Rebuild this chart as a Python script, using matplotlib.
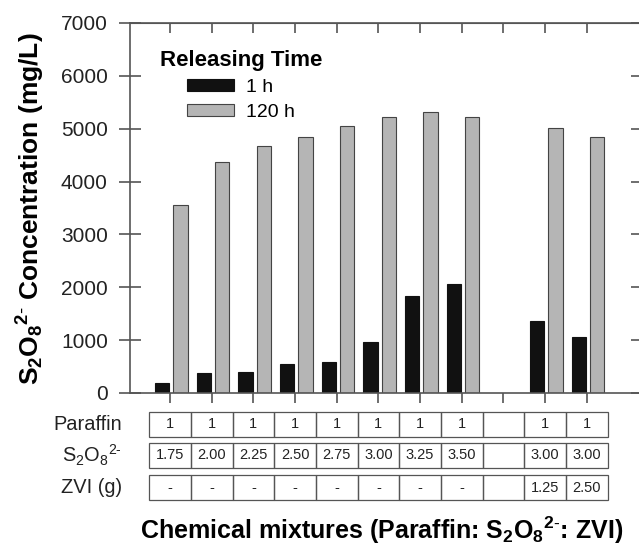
#!/usr/bin/env python3

import numpy as np
import matplotlib
matplotlib.use("Agg")
import matplotlib.pyplot as plt
from matplotlib.patches import Rectangle

plt.rcParams["font.family"] = ["Liberation Sans", "DejaVu Sans"]
plt.rcParams["mathtext.fontset"] = "custom"
plt.rcParams["mathtext.rm"] = "Liberation Sans"
plt.rcParams["mathtext.it"] = "Liberation Sans:italic"
plt.rcParams["mathtext.bf"] = "Liberation Sans:bold"

# mixture composition (Paraffin : S2O8 : ZVI), 9th slot is an empty gap
paraffin = ["1", "1", "1", "1", "1", "1", "1", "1", "", "1", "1"]
persulfate = ["1.75", "2.00", "2.25", "2.50", "2.75", "3.00", "3.25", "3.50", "", "3.00", "3.00"]
zvi = ["-", "-", "-", "-", "-", "-", "-", "-", "", "1.25", "2.50"]

# S2O8 2- concentration (mg/L)
conc_1h = [190, 380, 400, 550, 590, 960, 1840, 2060, np.nan, 1360, 1060]
conc_120h = [3550, 4370, 4670, 4840, 5050, 5220, 5310, 5220, np.nan, 5010, 4840]

x = np.arange(1, len(paraffin) + 1)

fig = plt.figure(figsize=(6.39, 5.48), dpi=100)
ax = fig.add_axes([130 / 639, 155 / 548, 511 / 639, 370 / 548])

ax.bar(x - 0.19, conc_1h, width=0.34, color="#111111", edgecolor="#111111",
       linewidth=0.8, label="1 h")
ax.bar(x + 0.25, conc_120h, width=0.34, color="#b5b5b5", edgecolor="#444444",
       linewidth=0.8, label="120 h")

ax.set_xlim(0.04, 12.3)
ax.set_ylim(0, 7000)
ax.set_yticks(np.arange(0, 7001, 1000))
ax.set_xticks(x)
ax.set_xticklabels([])

for s in ax.spines.values():
    s.set_color("#555555")
    s.set_linewidth(1.2)

ax.tick_params(axis="y", which="major", direction="inout", length=16,
               width=1.2, color="#555555", labelsize=15, pad=8,
               labelcolor="#222222")
ax.tick_params(axis="x", which="major", direction="out", length=7,
               width=1.2, color="#555555")

# top and right ticks point inward
top = ax.secondary_xaxis("top")
top.set_xticks(x)
top.set_xticklabels([])
top.tick_params(direction="in", length=7, width=1.2, color="#555555")
top.spines["top"].set_color("#555555")
right = ax.secondary_yaxis("right")
right.set_yticks(np.arange(0, 7001, 1000))
right.set_yticklabels([])
right.tick_params(direction="in", length=7, width=1.2, color="#555555")

leg = ax.legend(title="Releasing Time", loc="upper left",
                bbox_to_anchor=(0.058, 0.927), frameon=False, fontsize=14,
                handlelength=2.4, handleheight=0.57, labelspacing=0.42,
                handletextpad=0.6, borderpad=0, borderaxespad=0)
leg.get_title().set_fontweight("bold")
leg.get_title().set_fontsize(16)

# composition table under the axis
trans = ax.get_xaxis_transform()
rows = [paraffin, persulfate, zvi]
row_names = ["Paraffin", r"S$_2$O$_8{}^{2\text{-}}$", "ZVI (g)"]
row_tops = [-0.051, -0.135, -0.222]
row_h = 0.067
for vals, name, yt in zip(rows, row_names, row_tops):
    for xi, v in zip(x, vals):
        ax.add_patch(Rectangle((xi - 0.5, yt - row_h), 1.0, row_h,
                               transform=trans, clip_on=False, fill=False,
                               edgecolor="#555555", linewidth=0.9))
        ax.text(xi, yt - row_h / 2, v, transform=trans, ha="center",
                va="center", fontsize=10.5, clip_on=False, color="#222222")
    ax.text(-0.15, yt - row_h / 2, name, transform=trans, ha="right",
            va="center", fontsize=14.4, clip_on=False, color="#222222")

fig.text(382 / 639, 18 / 548,
         r"Chemical mixtures (Paraffin: $\mathbf{S_2O_8{}^{2\text{-}}}$: ZVI)",
         ha="center", va="center", fontsize=18, fontweight="bold")
fig.text(31 / 639, 0.619,
         r"$\mathbf{S_2O_8{}^{2\text{-}}}$ Concentration (mg/L)",
         ha="center", va="center", rotation=90, fontsize=19,
         fontweight="bold")

fig.savefig("out.png", dpi=100)
